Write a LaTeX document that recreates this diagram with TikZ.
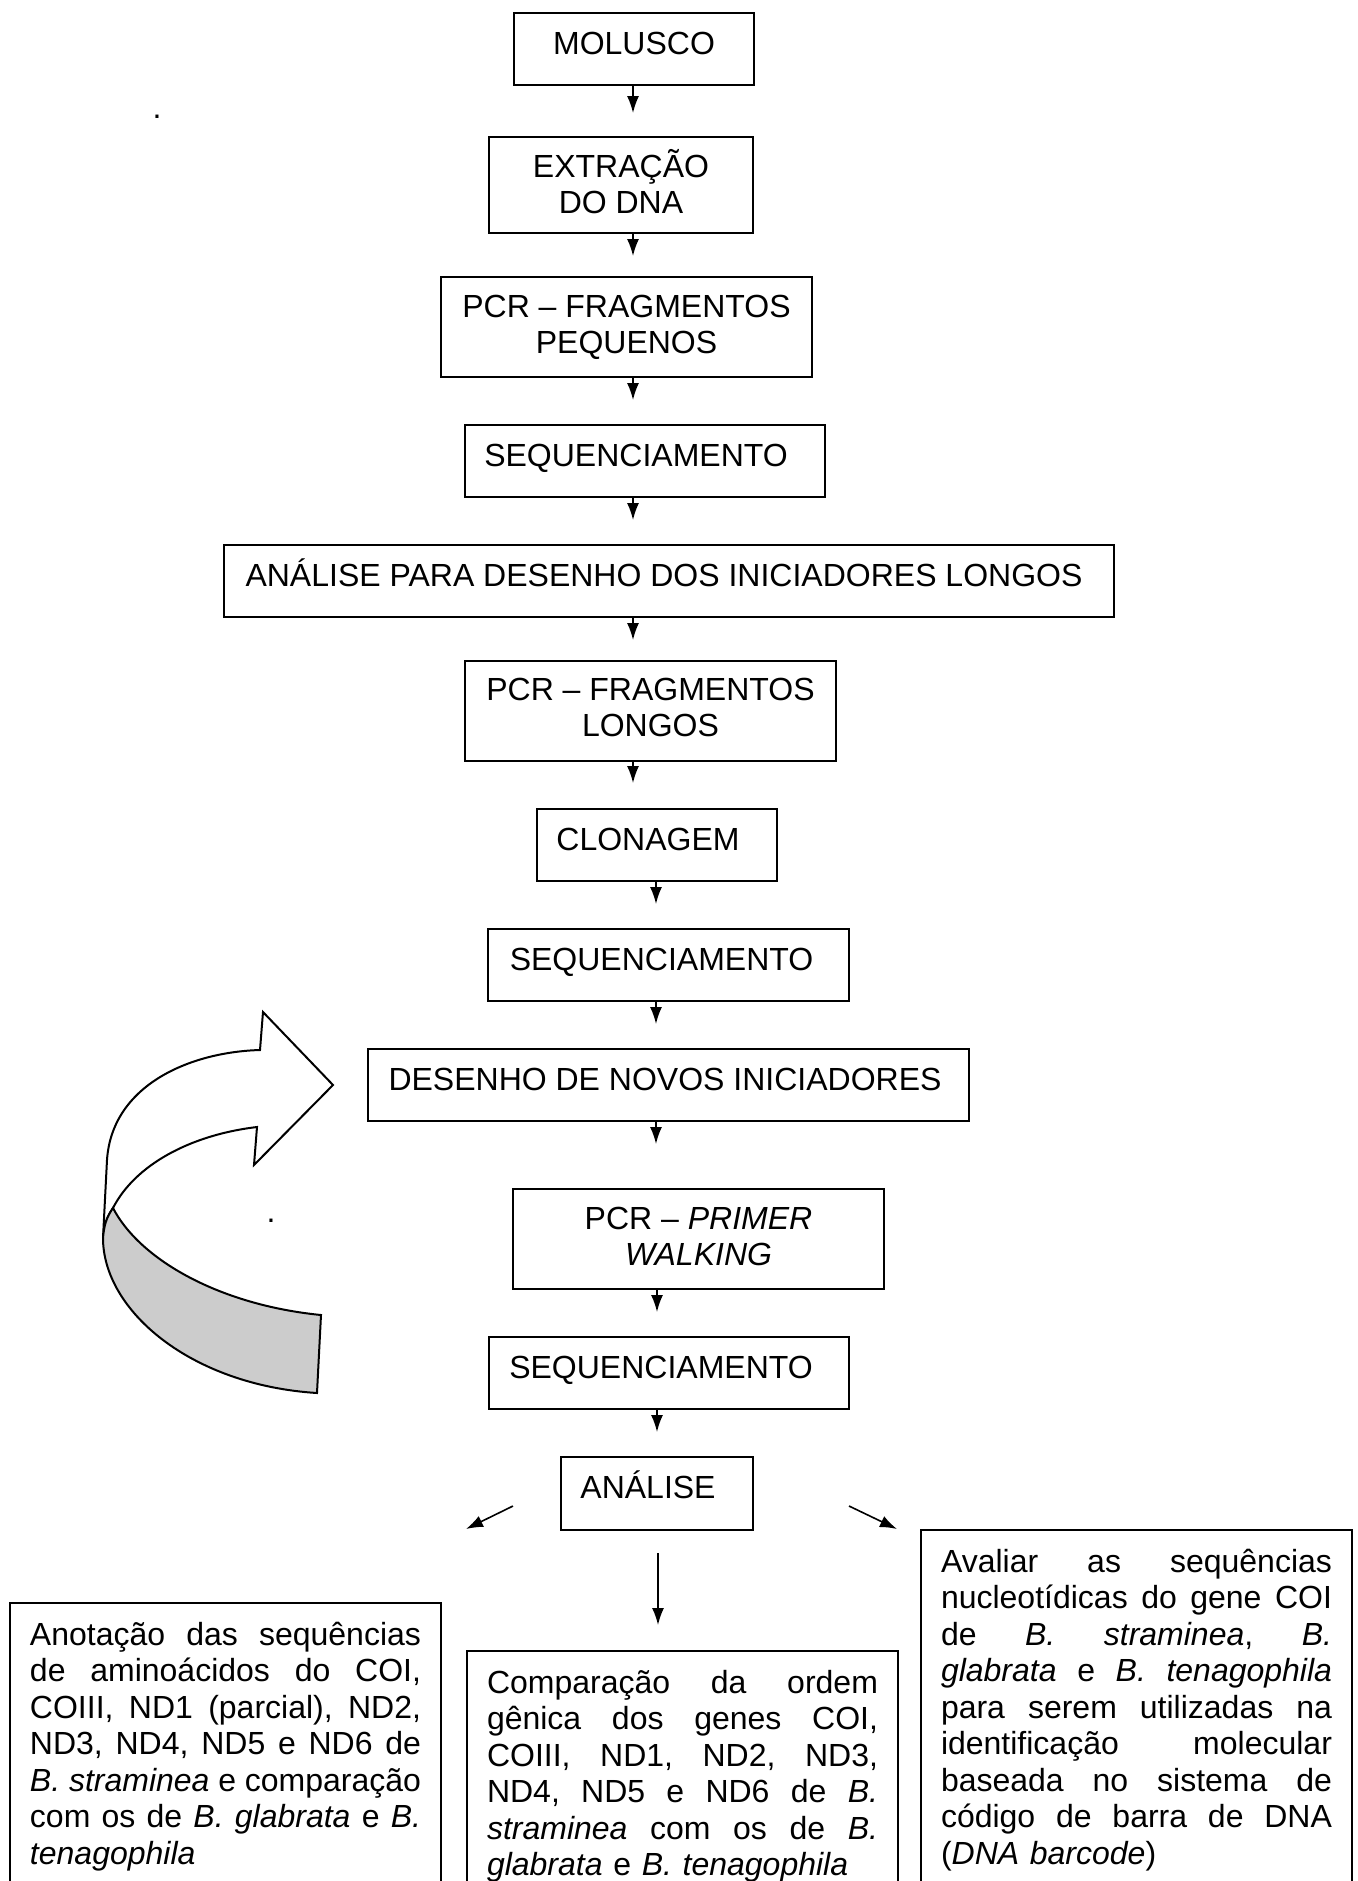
\documentclass[tikz,border=0pt]{standalone}
\usepackage{fontspec}
\setmainfont{Liberation Sans}
\usetikzlibrary{arrows.meta}
\definecolor{foldgray}{HTML}{CCCCCC}
\setlength{\parindent}{0pt}
\newcommand{\justline}[1]{\makebox[195.5pt][s]{\spaceskip=0pt\xspaceskip=0pt\relax #1}}
\begin{document}
\frenchspacing
\begin{tikzpicture}[x=0.5pt,y=-0.5pt,
  every node/.style={font=\fontsize{16}{18}\selectfont},
  box/.style={draw, line width=1pt, inner sep=0pt},
  onebox/.style={box, text height=20.75pt, text depth=15.25pt},
  twobox/.style={box, align=center},
  arr/.style={line width=0.8pt, -{Latex[length=8.5pt,width=6pt]}},
  bottombox/.style={draw, line width=1pt, anchor=north west, inner xsep=10pt, inner ysep=8.25pt,
    text width=195.5pt, align=left, font=\fontsize{16}{18.25}\selectfont},
  dotmark/.style={inner sep=0pt, anchor=base}
]
\useasboundingbox (0,0) rectangle (1358,1881);

% main column
\node[onebox, minimum width=120pt] (n1) at (634,49) {MOLUSCO};
\node[twobox, minimum width=132pt, minimum height=48pt] (n2) at (621,185) {EXTRAÇÃO\\DO DNA\rule[-3.6pt]{0pt}{0pt}};
\node[twobox, minimum width=185.5pt, minimum height=50pt] (n3) at (626.5,327) {PCR \textendash{} FRAGMENTOS\\PEQUENOS};
\node[onebox, minimum width=180pt] (n4) at (645,461) {SEQUENCIAMENTO\hspace*{9pt}};
\node[onebox, minimum width=445pt] (n5) at (669,581) {ANÁLISE PARA DESENHO DOS INICIADORES LONGOS\hspace*{5pt}};
\node[twobox, minimum width=185.5pt, minimum height=50pt] (n6) at (650.5,711) {PCR \textendash{} FRAGMENTOS\\LONGOS\rule[-3.6pt]{0pt}{0pt}};
\node[onebox, minimum width=120pt] (n7) at (657,845) {CLONAGEM\hspace*{9pt}};
\node[onebox, minimum width=180.5pt] (n8) at (668.5,965) {SEQUENCIAMENTO\hspace*{7pt}};
\node[onebox, minimum width=300.5pt] (n9) at (668.5,1085) {DESENHO DE NOVOS INICIADORES\hspace*{3.5pt}};
\node[twobox, minimum width=185.5pt, minimum height=50pt] (n10) at (698.5,1239) {PCR \textendash{} \textit{PRIMER}\\\textit{WALKING}\rule[-2.4pt]{0pt}{0pt}};
\node[onebox, minimum width=180pt] (n11) at (669,1373) {SEQUENCIAMENTO\hspace*{8pt}};
\node[onebox, minimum width=96pt, text depth=15.5pt] (n12) at (657,1493.5) {ANÁLISE\hspace*{9pt}};

% arrow tips
\coordinate (t1) at (633,113);
\coordinate (t2) at (633,256);
\coordinate (t3) at (633,400);
\coordinate (t4) at (633,520);
\coordinate (t5) at (633,640);
\coordinate (t6) at (633,783);
\coordinate (t7) at (656,904);
\coordinate (t8) at (656,1024);
\coordinate (t9) at (656,1144);
\coordinate (t10) at (657,1312);
\coordinate (t11) at (657,1432);

\draw[arr] (n1.south -| t1) -- (t1);
\draw[arr] (n2.south -| t2) -- (t2);
\draw[arr] (n3.south -| t3) -- (t3);
\draw[arr] (n4.south -| t4) -- (t4);
\draw[arr] (n5.south -| t5) -- (t5);
\draw[arr] (n6.south -| t6) -- (t6);
\draw[arr] (n7.south -| t7) -- (t7);
\draw[arr] (n8.south -| t8) -- (t8);
\draw[arr] (n9.south -| t9) -- (t9);
\draw[arr] (n10.south -| t10) -- (t10);
\draw[arr] (n11.south -| t11) -- (t11);

% three outgoing arrows
\coordinate (ls) at (513,1506); \coordinate (lt) at (466,1529);
\coordinate (ms) at (658,1553); \coordinate (mt) at (658,1625);
\coordinate (rs) at (849,1506); \coordinate (rt) at (897,1529);
\draw[arr] (ls) -- (lt);
\draw[arr] (ms) -- (mt);
\draw[arr] (rs) -- (rt);

% bottom boxes
\node[bottombox] (b1) at (9,1602) {%
\justline{\strut Anotação das sequências}\\
\justline{de aminoácidos do COI,}\\
\justline{COIII, ND1 (parcial), ND2,}\\
\justline{ND3, ND4, ND5 e ND6 de}\\
\justline{\textit{B. straminea} e comparação}\\
\justline{com os de \textit{B. glabrata} e \textit{B.}}\\
\textit{tenagophila}\rule[-30pt]{0pt}{0pt}};

\node[bottombox] (b2) at (466,1650) {%
\justline{\strut Comparação da ordem}\\
\justline{gênica dos genes COI,}\\
\justline{COIII, ND1, ND2, ND3,}\\
\justline{ND4, ND5 e ND6 de \textit{B.}}\\
\justline{\textit{straminea} com os de \textit{B.}}\\
\textit{glabrata} e \textit{B. tenagophila}\rule[-30pt]{0pt}{0pt}};

\node[bottombox] (b3) at (920,1529) {%
\justline{\strut Avaliar as sequências}\\
\justline{nucleotídicas do gene COI}\\
\justline{de \textit{B.} \textit{straminea}, \textit{B.}}\\
\justline{\textit{glabrata} e \textit{B. tenagophila}}\\
\justline{para serem utilizadas na}\\
\justline{identificação molecular}\\
\justline{baseada no sistema de}\\
\justline{código de barra de DNA}\\
(\textit{DNA barcode})\rule[-30pt]{0pt}{0pt}};

% curved block arrow (loop back)
\filldraw[fill=white, line width=1pt, line join=miter]
  (260,1050) .. controls (190,1052) and (112,1085) .. (107,1160)
  -- (103,1238) .. controls (104,1226) and (106,1218) .. (113,1208)
  .. controls (135,1165) and (190,1135) .. (257,1127)
  -- (254,1165) -- (333,1085) -- (263,1012) -- cycle;
\filldraw[fill=foldgray, line width=1pt, line join=miter]
  (113,1208) .. controls (106,1218) and (104,1226) .. (103,1238)
  .. controls (103,1310) and (190,1385) .. (317,1393)
  -- (321,1315) .. controls (220,1305) and (140,1260) .. cycle;

% stray dots
\node[dotmark] (d1) at (157,118) {.};
\node[dotmark] (d2) at (271,1222) {.};
\end{tikzpicture}
\end{document}
